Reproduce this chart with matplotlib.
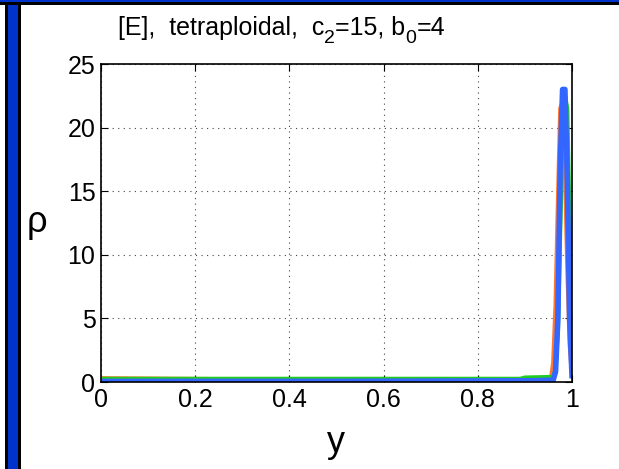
import matplotlib
matplotlib.use("Agg")
import matplotlib.pyplot as plt
import matplotlib.patches as patches

# density curves rho(y)
x_orange = [0.0, 0.5, 0.9, 0.955, 0.96, 0.965, 0.97, 0.975, 0.98, 0.985, 0.99, 0.995, 1.0]
rho_orange = [0.3, 0.15, 0.15, 0.2, 1.5, 6.0, 14.0, 21.5, 22.0, 17.0, 9.0, 3.0, 0.5]
x_green = [0.0, 0.5, 0.89, 0.9, 0.96, 0.965, 0.97, 0.975, 0.98, 0.985, 0.99, 0.995, 1.0]
rho_green = [0.25, 0.25, 0.25, 0.35, 0.4, 1.0, 4.0, 12.0, 19.0, 22.5, 21.5, 12.0, 2.0]
x_blue = [0.0, 0.5, 0.92, 0.96, 0.965, 0.97, 0.975, 0.98, 0.985, 0.99, 0.995, 1.0]
rho_blue = [0.05, 0.05, 0.1, 0.15, 0.8, 5.0, 17.0, 23.0, 23.0, 16.0, 5.0, 0.5]

xticks = [0, 0.2, 0.4, 0.6, 0.8, 1]
xticklabels = ['0', '0.2', '0.4', '0.6', '0.8', '1']
yticks = [0, 5, 10, 15, 20, 25]

plt.rcParams['font.family'] = ['Liberation Sans', 'DejaVu Sans']

fig = plt.figure(figsize=(6.19, 4.69), dpi=100)
ax = fig.add_axes([101/619, 1 - 382/469, 471/619, 318/469])

ax.plot(x_orange, rho_orange, color='#ff7733', lw=3)
ax.plot(x_green, rho_green, color='#22cc22', lw=3)
ax.plot(x_blue, rho_blue, color='#3366ff', lw=4)

ax.set_xlim(0, 1)
ax.set_ylim(0, 25)
ax.set_xticks(xticks)
ax.set_xticklabels(xticklabels)
ax.set_yticks(yticks)
ax.grid(True, linestyle=(0, (1, 4)), color='#444444', lw=0.8)
ax.tick_params(direction='in', labelsize=18, length=5, top=True, right=True,
               labeltop=False, labelright=False, pad=4)
for s in ax.spines.values():
    s.set_linewidth(1.2)

ax.set_xlabel('y', fontsize=26, labelpad=10)
ax.set_ylabel('ρ', fontsize=26, rotation=0, labelpad=22, va='center')

# title in pieces, subscripts dropped low like matlab does
pieces = [('[E],  tetraploidal,  c', 0, 18), ('2', -8, 14), ('=15, b', 0, 18),
          ('0', -8, 14), ('=4', 0, 18)]
renderer = fig.canvas.get_renderer()
xpix = 118
base = 469 - 35
for txt, dy, fs in pieces:
    t = fig.text(xpix / 619, (base + dy) / 469, txt, fontsize=fs, ha='left', va='baseline')
    xpix = t.get_window_extent(renderer).x1

# window frame
fig.patches.append(patches.Rectangle((5/619, 0), 16/619, 1, transform=fig.transFigure,
                                     facecolor='black', edgecolor='none'))
fig.patches.append(patches.Rectangle((8/619, 0), 10/619, 1, transform=fig.transFigure,
                                     facecolor='#0033cc', edgecolor='none'))
fig.patches.append(patches.Rectangle((0, 1 - 5/469), 1, 5/469, transform=fig.transFigure,
                                     facecolor='black', edgecolor='none'))
fig.patches.append(patches.Rectangle((0, 1 - 2/469), 1, 2/469, transform=fig.transFigure,
                                     facecolor='#0033cc', edgecolor='none'))

fig.savefig('out.png', dpi=100)
